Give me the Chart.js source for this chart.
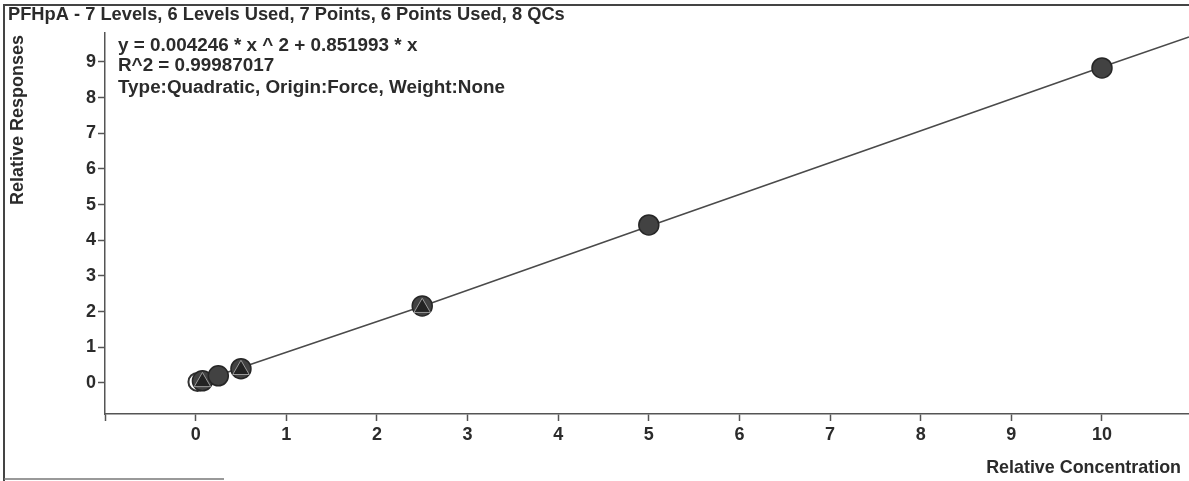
<!DOCTYPE html>
<html>
<head>
<meta charset="utf-8">
<script src="https://cdn.jsdelivr.net/npm/chart.js@4/dist/chart.umd.min.js"></script>
<style>
html,body{margin:0;padding:0;background:#fff;}
#wrap{width:1189px;height:481px;position:relative;}
</style>
</head>
<body>
<div id="wrap"><canvas id="c" width="1189" height="481"></canvas></div>
<script>
// ---- data ----
const calX = [0.075, 0.25, 0.5, 2.5, 5, 10];
const calY = [0.06, 0.20, 0.40, 2.16, 4.43, 8.83];
const excludedX = [0.02];
const excludedY = [0.03];
const qcX = [0.075, 0.5, 2.5];
const qcY = [0.03, 0.37, 2.11];
const curveX = [0, 2.5, 5, 7.5, 10, 10.96];
const curveY = [0, 2.15, 4.39, 6.62, 8.86, 9.70];
const xTicks = [-1, 0, 1, 2, 3, 4, 5, 6, 7, 8, 9, 10];
const yTicks = [0, 1, 2, 3, 4, 5, 6, 7, 8, 9];
const titleText = "PFHpA - 7 Levels, 6 Levels Used, 7 Points, 6 Points Used, 8 QCs";
const eqLines = ["y = 0.004246 * x ^ 2 + 0.851993 * x", "R^2 = 0.99987017", "Type:Quadratic, Origin:Force, Weight:None"];
const xTitle = "Relative Concentration";
const yTitle = "Relative Responses";

const pts = (xs, ys) => xs.map((x, i) => ({x: x, y: ys[i]}));
const FAM = '"Liberation Sans", Arial, sans-serif';
const ink = '#2b2b2b';

function fitFont(ctx, text, width) {
  let size = 16;
  ctx.font = 'bold ' + size + 'px ' + FAM;
  const w = ctx.measureText(text).width;
  size = size * width / w;
  return 'bold ' + size.toFixed(2) + 'px ' + FAM;
}

const decor = {
  id: 'decor',
  afterDraw(chart) {
    const ctx = chart.ctx;
    ctx.save();
    // frame
    ctx.strokeStyle = '#444';
    ctx.lineWidth = 2;
    ctx.beginPath();
    ctx.moveTo(4, 481); ctx.lineTo(4, 5); ctx.lineTo(1189, 5);
    ctx.stroke();
    ctx.lineWidth = 1.5;
    ctx.strokeStyle = '#777';
    ctx.beginPath();
    ctx.moveTo(4, 479); ctx.lineTo(224, 479);
    ctx.stroke();
    // texts
    ctx.fillStyle = ink;
    ctx.textBaseline = 'middle';
    ctx.textAlign = 'left';
    ctx.font = fitFont(ctx, titleText, 557);
    ctx.fillText(titleText, 8, 15);
    const eqFont = fitFont(ctx, eqLines[2], 387);
    const eqY = [46, 66, 88];
    ctx.font = eqFont;
    eqLines.forEach((t, i) => {
      ctx.fillText(t, 118, eqY[i]);
    });
    ctx.font = fitFont(ctx, xTitle, 195);
    ctx.textAlign = 'right';
    ctx.fillText(xTitle, 1181, 468);
    ctx.translate(18, 120);
    ctx.rotate(-Math.PI / 2);
    ctx.textAlign = 'center';
    ctx.font = fitFont(ctx, yTitle, 170);
    ctx.fillText(yTitle, 0, 0);
    ctx.restore();
  }
};

new Chart(document.getElementById('c'), {
  type: 'scatter',
  data: {
    datasets: [
      {
        label: 'QC', data: pts(qcX, qcY), order: 1,
        pointStyle: 'triangle', pointRadius: 9.5,
        backgroundColor: '#232323', borderColor: '#9a9a9a', borderWidth: 1
      },
      {
        label: 'Calibration', data: pts(calX, calY), order: 2,
        pointStyle: 'circle', pointRadius: 10,
        backgroundColor: '#424242', borderColor: '#262626', borderWidth: 1.5
      },
      {
        label: 'Excluded', data: pts(excludedX, excludedY), order: 3,
        pointStyle: 'circle', pointRadius: 9,
        backgroundColor: '#ffffff', borderColor: '#333', borderWidth: 2
      },
      {
        label: 'Fit', data: pts(curveX, curveY), order: 4, type: 'line',
        showLine: true, pointRadius: 0, borderColor: '#4a4a4a', borderWidth: 1.6,
        fill: false, tension: 0
      }
    ]
  },
  options: {
    responsive: false,
    animation: false,
    layout: { autoPadding: false, padding: { top: 33, right: 0, left: 0, bottom: 0 } },
    plugins: { legend: { display: false }, tooltip: { enabled: false }, title: { display: false } },
    scales: {
      x: {
        type: 'linear', min: -1.0, max: 10.96,
        afterBuildTicks: s => { s.ticks = xTicks.map(v => ({value: v})); },
        afterFit: s => { s.height = 67; s.paddingRight = 0; s.paddingLeft = 0; },
        grid: { display: true, drawOnChartArea: false, drawTicks: true, tickLength: 7, tickColor: '#555', tickWidth: 1.5 },
        border: { display: true, color: '#555', width: 1.5 },
        ticks: {
          color: ink, font: { family: FAM, size: 18, weight: 'bold' }, padding: 3,
          maxRotation: 0, autoSkip: false,
          callback: v => (v < 0 ? '' : String(v))
        }
      },
      y: {
        type: 'linear', min: -0.87, max: 9.81,
        afterBuildTicks: s => { s.ticks = yTicks.map(v => ({value: v})); },
        afterFit: s => { s.width = 105; s.paddingTop = 0; s.paddingBottom = 0; },
        grid: { display: true, drawOnChartArea: false, drawTicks: true, tickLength: 7, tickColor: '#555', tickWidth: 1.5 },
        border: { display: true, color: '#555', width: 1.5 },
        ticks: {
          color: ink, font: { family: FAM, size: 18, weight: 'bold' }, padding: 2,
          autoSkip: false, callback: v => String(v)
        }
      }
    }
  },
  plugins: [decor]
});
</script>
</body>
</html>
